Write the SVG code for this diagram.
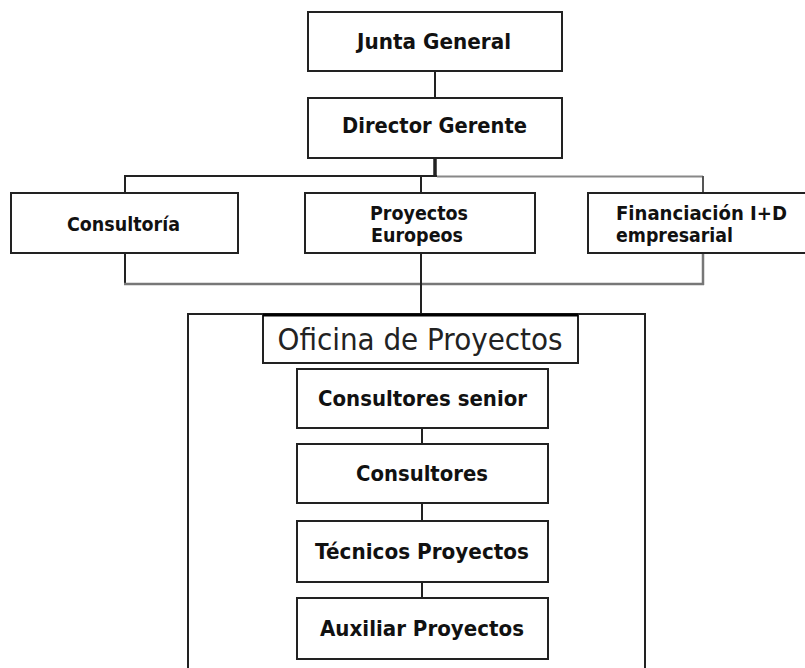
<svg xmlns="http://www.w3.org/2000/svg" width="805" height="668" viewBox="0 0 805 668">
<style>
.box{fill:#fff;stroke:#222;stroke-width:2}
.t{font-family:"DejaVu Sans","Liberation Sans",sans-serif;font-weight:bold;fill:#111}
.big{font-size:22px}
.up{font-size:20px}
.lo{font-size:22px;text-anchor:middle}
.c{text-anchor:middle}
.ln{fill:none;stroke:#222;stroke-width:2}
.gr{fill:none;stroke:#777;stroke-width:2.5}
</style>
<rect width="805" height="668" fill="#fff"/>
<g id="connectors">
<line class="ln" x1="435" y1="71" x2="435" y2="98"/>
<line class="ln" x1="435" y1="158" x2="435" y2="177" style="stroke-width:3.5"/>
<line class="ln" x1="124" y1="176" x2="437" y2="176"/>
<line class="gr" x1="437" y1="176.5" x2="703" y2="176.5" style="stroke:#888;stroke-width:2"/>
<line class="ln" x1="125" y1="176" x2="125" y2="193"/>
<line class="ln" x1="421" y1="176" x2="421" y2="193"/>
<line class="ln" x1="703" y1="176" x2="703" y2="193" style="stroke:#555"/>
<line class="ln" x1="125" y1="253" x2="125" y2="285"/>
<line class="gr" x1="703" y1="253" x2="703" y2="285"/>
<line class="gr" x1="124" y1="284" x2="704" y2="284"/>
<line class="ln" x1="421" y1="253" x2="421" y2="314"/>
<line class="ln" x1="422" y1="428" x2="422" y2="444"/>
<line class="ln" x1="422" y1="503" x2="422" y2="521"/>
<line class="ln" x1="422" y1="582" x2="422" y2="598"/>
</g>
<g id="junta">
<rect class="box" x="308" y="12" width="254" height="59"/>
<text class="t big c" x="434" y="49" textLength="154" lengthAdjust="spacingAndGlyphs">Junta General</text>
</g>
<g id="director">
<rect class="box" x="308" y="98" width="254" height="60"/>
<text class="t big c" x="434.5" y="133" textLength="185" lengthAdjust="spacingAndGlyphs">Director Gerente</text>
</g>
<g id="consultoria">
<rect class="box" x="11" y="193" width="227" height="60"/>
<text class="t up c" x="123.5" y="231" textLength="113" lengthAdjust="spacingAndGlyphs">Consultoría</text>
</g>
<g id="proyectos-europeos">
<rect class="box" x="305" y="193" width="230" height="60"/>
<text class="t up" x="370" y="220" textLength="98" lengthAdjust="spacingAndGlyphs">Proyectos</text>
<text class="t up" x="371" y="242" textLength="92" lengthAdjust="spacingAndGlyphs">Europeos</text>
</g>
<g id="financiacion">
<rect class="box" x="588" y="193" width="220" height="60"/>
<text class="t up" x="616" y="220" textLength="171" lengthAdjust="spacingAndGlyphs">Financiación I+D</text>
<text class="t up" x="616" y="242" textLength="117" lengthAdjust="spacingAndGlyphs">empresarial</text>
</g>
<g id="oficina">
<path class="ln" d="M188,670 V314 H645 V670"/>
<rect class="box" x="263" y="315" width="315" height="48"/>
<line x1="263" y1="315" x2="578" y2="315" stroke="#000" stroke-width="3"/>
<text x="420" y="350" text-anchor="middle" font-family="DejaVu Sans, Liberation Sans, sans-serif" font-size="30" fill="#222" textLength="285" lengthAdjust="spacingAndGlyphs">Oficina de Proyectos</text>
</g>
<g id="consultores-senior">
<rect class="box" x="297" y="369" width="251" height="59"/>
<text class="t lo" x="422.5" y="406" textLength="209" lengthAdjust="spacingAndGlyphs">Consultores senior</text>
</g>
<g id="consultores">
<rect class="box" x="297" y="444" width="251" height="59"/>
<text class="t lo" x="422" y="481" textLength="132" lengthAdjust="spacingAndGlyphs">Consultores</text>
</g>
<g id="tecnicos">
<rect class="box" x="297" y="521" width="251" height="61"/>
<text class="t lo" x="422" y="559" textLength="214" lengthAdjust="spacingAndGlyphs">Técnicos Proyectos</text>
</g>
<g id="auxiliar">
<rect class="box" x="297" y="598" width="251" height="61"/>
<text class="t lo" x="422" y="636" textLength="204" lengthAdjust="spacingAndGlyphs">Auxiliar Proyectos</text>
</g>
</svg>
